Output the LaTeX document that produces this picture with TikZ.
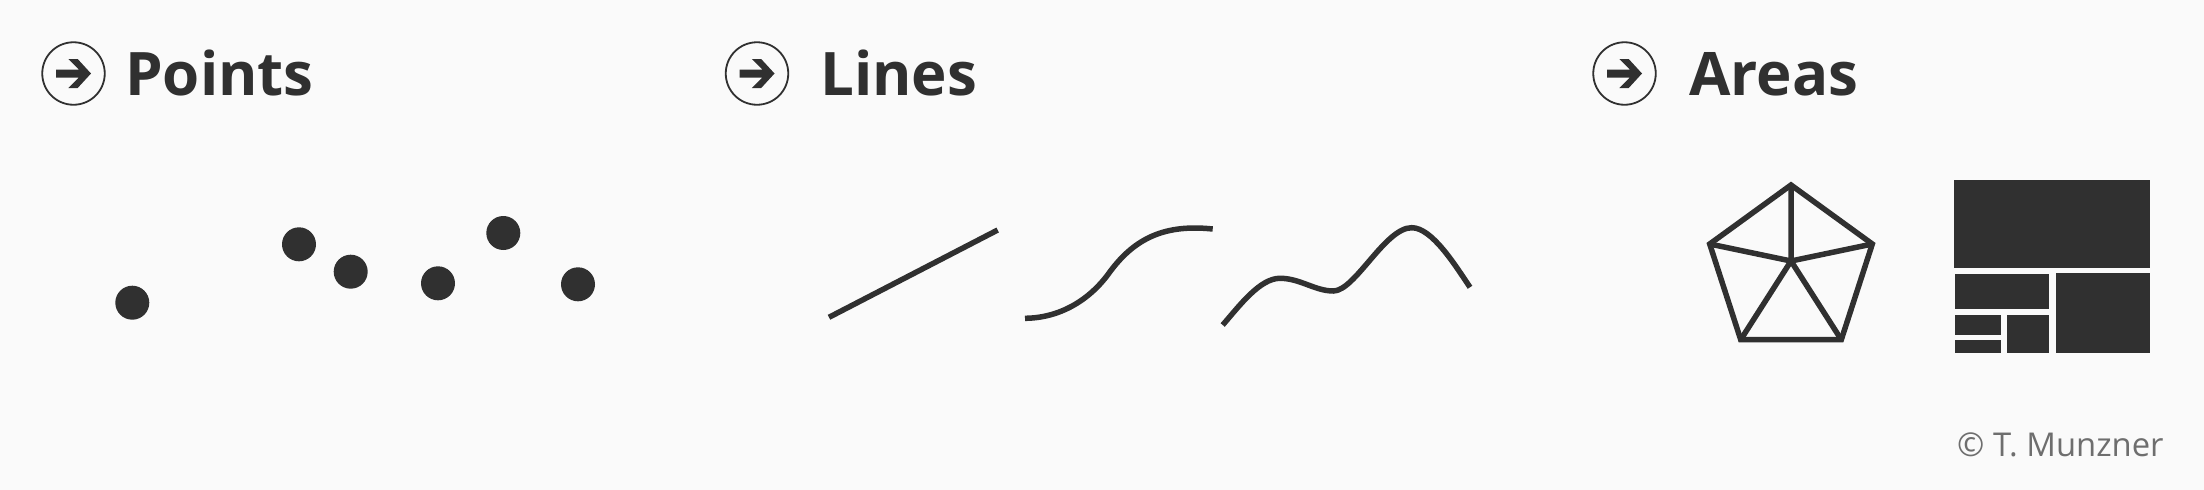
\documentclass[tikz,border=0pt]{standalone}
\usepackage{fontspec}
\setmainfont{Open Sans}
\definecolor{bg}{HTML}{FAFAFA}
\definecolor{ink}{HTML}{303030}
\definecolor{credit}{HTML}{6E6E6E}
\begin{document}
\begin{tikzpicture}[x=1pt,y=-1pt,
  ring/.style={draw=ink,line width=1.8pt},
  heading/.style={anchor=base west,inner sep=0pt,text=ink,font=\fontsize{60pt}{60pt}\selectfont\bfseries},
  dot/.style={circle,fill=ink,minimum size=34pt,inner sep=0pt},
  stroke/.style={draw=ink,line width=5.5pt},
  block/.style={fill=ink},
  creditstyle/.style={anchor=base west,inner sep=0pt,text=credit,font=\fontsize{32.8pt}{32.8pt}\selectfont}]
\fill[bg] (0,0) rectangle (2204,490);
\useasboundingbox (0,0) rectangle (2204,490);
% heading icons
\foreach \cx/\nm in {73.5/pi,757/li,1624.5/ai}{
  \node[circle,minimum size=62.5pt,inner sep=0pt,ring] (\nm) at (\cx,73.5) {};
  \fill[ink,shift={(\cx,73.5)}] (-17.5,-4) -- (5.3,-4) -- (-5.2,-14.5) -- (4.2,-14.5) -- (17.5,0)
     -- (4.2,14.5) -- (-5.2,14.5) -- (5.3,4) -- (-17.5,4) -- cycle;
}
\node[heading] (hp) at (125,95) {Points};
\node[heading] (hl) at (820,95) {Lines};
\node[heading] (ha) at (1689,95) {Areas};
% points
\node[dot] (p1) at (132.3,302.7) {};
\node[dot] (p2) at (299,244.3) {};
\node[dot] (p3) at (350.7,271.7) {};
\node[dot] (p4) at (438,283.3) {};
\node[dot] (p5) at (503.3,233) {};
\node[dot] (p6) at (578,284.3) {};
% lines
\draw[stroke] (829,317.3) -- (997.7,230);
\draw[stroke] (1025,318.3) .. controls (1060,318) and (1090,300) .. (1110,271.7)
   .. controls (1135,238) and (1165,224) .. (1212.7,229);
\draw[stroke] (1222.7,325) .. controls (1240,305) and (1260,278.3) .. (1280,278.3)
   .. controls (1300,278.3) and (1315,291) .. (1333.3,291)
   .. controls (1355,291) and (1385,227.7) .. (1411.7,227.7)
   .. controls (1432,227.7) and (1455,265) .. (1470,287.3);
% areas: pentagon
\coordinate (t) at (1791,185);
\coordinate (l) at (1709.7,244);
\coordinate (r) at (1872.3,244);
\coordinate (bl) at (1740.7,339.7);
\coordinate (br) at (1841.3,339.7);
\coordinate (c) at (1791,261);
\draw[stroke,line join=miter] (t) -- (r) -- (br) -- (bl) -- (l) -- cycle;
\draw[stroke] (t) -- (c) (l) -- (c) (r) -- (c) (bl) -- (c) (br) -- (c);
% areas: treemap
\fill[block] (1954,180) rectangle (2150,268.3);
\fill[block] (1955,274) rectangle (2049,309);
\fill[block] (2056,273.3) rectangle (2150,353.3);
\fill[block] (1955,315) rectangle (2001,335);
\fill[block] (1955,340) rectangle (2001,353.3);
\fill[block] (2006.7,315) rectangle (2049,353.3);
% credit
\node[creditstyle] (cr) at (1957,456) {© T. Munzner};
\end{tikzpicture}
\end{document}
